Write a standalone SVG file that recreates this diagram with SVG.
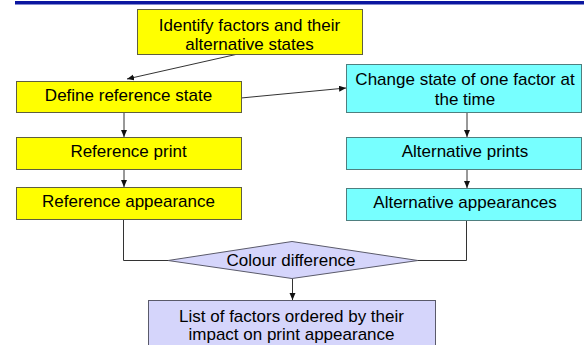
<svg xmlns="http://www.w3.org/2000/svg" width="584" height="345" viewBox="0 0 584 345">
<style>
.t{font-family:"Liberation Sans",Arial,sans-serif;font-size:17px;fill:#000;text-anchor:middle}
.y{fill:#FFFF00;stroke:#5F5F3F;stroke-width:1}
.c{fill:#77FFFF;stroke:#4F7F7F;stroke-width:1}
.l{fill:#D5D5FB;stroke:#5A5A6A;stroke-width:1}
.e{fill:none;stroke:#333;stroke-width:1}
</style>
<defs>
<marker id="a" markerUnits="userSpaceOnUse" markerWidth="8" markerHeight="7" refX="7" refY="3" orient="auto">
<path d="M0,0 L7,3 L0,6 z" fill="#111"/>
</marker>
</defs>
<rect x="15" y="1" width="569" height="3.5" fill="#0B16A0"/>
<g id="connectors">
<line class="e" x1="238" y1="54" x2="127" y2="79" marker-end="url(#a)"/>
<line class="e" x1="241" y1="98" x2="346" y2="88" marker-end="url(#a)"/>
<line class="e" x1="124" y1="113" x2="124" y2="137" marker-end="url(#a)"/>
<line class="e" x1="124" y1="170" x2="124" y2="187" marker-end="url(#a)"/>
<line class="e" x1="467" y1="113" x2="467" y2="137" marker-end="url(#a)"/>
<line class="e" x1="467" y1="170" x2="467" y2="188" marker-end="url(#a)"/>
<polyline class="e" points="123.5,220 123.5,260.5 168,260.5"/>
<polyline class="e" points="466.5,221 466.5,260.5 418,260.5"/>
<line class="e" x1="292.5" y1="279" x2="292.5" y2="300" marker-end="url(#a)"/>
</g>
<g id="identify">
<rect class="y" x="137.5" y="9.5" width="225" height="45"/>
<text class="t" x="249.5" y="31">Identify factors and their</text>
<text class="t" x="249.5" y="50">alternative states</text>
</g>
<g id="define">
<rect class="y" x="16.5" y="81.5" width="225" height="31"/>
<text class="t" x="128.5" y="101">Define reference state</text>
</g>
<g id="refprint">
<rect class="y" x="16.5" y="137.5" width="225" height="32"/>
<text class="t" x="128.5" y="157">Reference print</text>
</g>
<g id="refappearance">
<rect class="y" x="16.5" y="187.5" width="225" height="32"/>
<text class="t" x="128.5" y="207">Reference appearance</text>
</g>
<g id="change">
<rect class="c" x="346.5" y="64.5" width="235" height="48"/>
<text class="t" x="465" y="85">Change state of one factor at</text>
<text class="t" x="465" y="104.5">the time</text>
</g>
<g id="altprints">
<rect class="c" x="346.5" y="137.5" width="235" height="32"/>
<text class="t" x="465" y="157">Alternative prints</text>
</g>
<g id="altappearances">
<rect class="c" x="346.5" y="188.5" width="235" height="32"/>
<text class="t" x="465" y="208">Alternative appearances</text>
</g>
<g id="colourdiff">
<polygon class="l" points="168,260.5 292,241.5 418,260.5 292,278.5"/>
<text class="t" x="291" y="266">Colour difference</text>
</g>
<g id="list">
<rect class="l" x="148.5" y="300.5" width="287" height="60"/>
<text class="t" x="291.5" y="322">List of factors ordered by their</text>
<text class="t" x="291.5" y="340">impact on print appearance</text>
</g>
</svg>
